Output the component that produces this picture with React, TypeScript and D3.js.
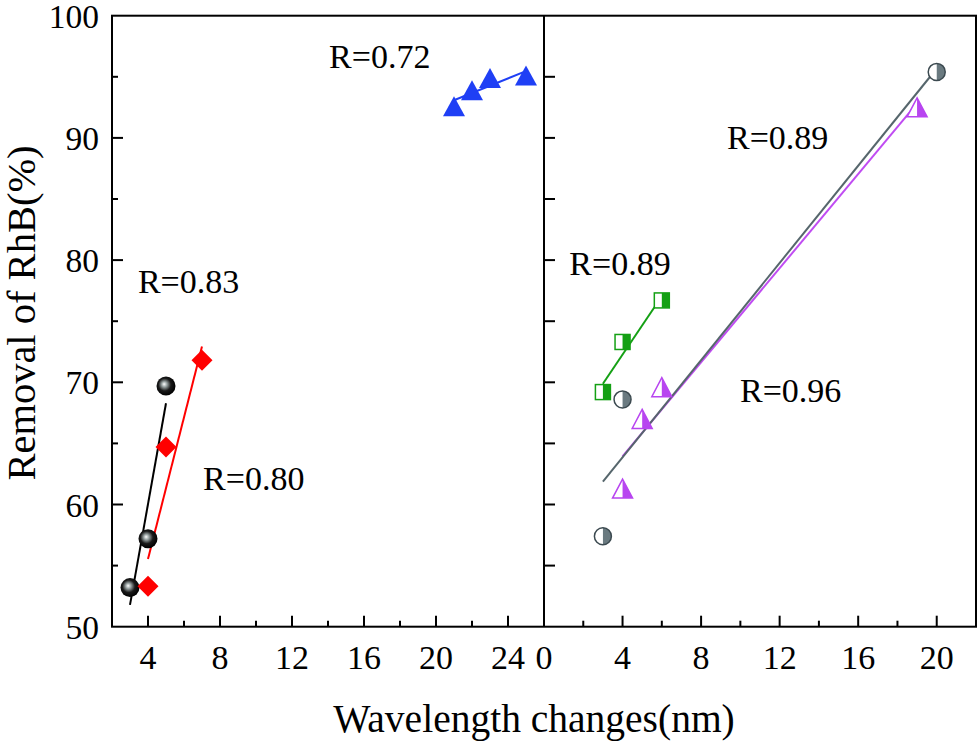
import { useEffect, useRef } from 'react';
import * as d3 from 'd3';

// left panel series
const blackX = [3, 4, 5];
const blackY = [53.2, 57.2, 69.7];
const redX = [4, 5, 7];
const redY = [53.3, 64.7, 71.8];
const blueX = [21, 22, 23, 25];
const blueY = [92.6, 93.9, 94.9, 95.1];

// right panel series
const greenX = [3, 4, 6];
const greenY = [69.2, 73.3, 76.7];
const grayX = [3, 4, 20];
const grayY = [57.4, 68.6, 95.4];
const purpleX = [4, 5, 6, 19];
const purpleY = [61.3, 67.0, 69.6, 92.5];

const leftTicks = [4, 8, 12, 16, 20, 24];
const rightTicks = [0, 4, 8, 12, 16, 20];
const yTicks = [50, 60, 70, 80, 90, 100];

// R labels, data coords of the text start / baseline
const leftNotes = [
    { text: 'R=0.72', x: 14.06, y: 95.72 },
    { text: 'R=0.83', x: 3.44, y: 77.31 },
    { text: 'R=0.80', x: 7.06, y: 61.2 },
];
const rightNotes = [
    { text: 'R=0.89', x: 9.32, y: 89.1 },
    { text: 'R=0.89', x: 1.29, y: 78.78 },
    { text: 'R=0.96', x: 9.98, y: 68.4 },
];

const FONT = '"Liberation Serif", "Times New Roman", serif';

// least squares line over the x range of the points
function fit(xs: number[], ys: number[]) {
    const mx = d3.mean(xs)!;
    const my = d3.mean(ys)!;
    let sxy = 0, sxx = 0;
    xs.forEach((x, i) => { sxy += (x - mx) * (ys[i] - my); sxx += (x - mx) * (x - mx); });
    const b = sxy / sxx;
    const [x0, x1] = d3.extent(xs) as [number, number];
    return [[x0, my + b * (x0 - mx)], [x1, my + b * (x1 - mx)]] as [number, number][];
}

const App = () => {
    const ref = useRef<SVGSVGElement>(null);

    useEffect(() => {
        if (!ref.current) return;
        const svg = d3.select(ref.current);
        svg.selectAll('*').remove();

        const top = 15.7, bottom = 626.7;
        const x0 = 112, xMid = 544, x1 = 976;

        const y = d3.scaleLinear().domain([50, 100]).range([bottom, top]);
        const xL = d3.scaleLinear().domain([2, 26]).range([x0, xMid]);
        const xR = d3.scaleLinear().domain([0, 22]).range([xMid, x1]);

        const defs = svg.append('defs');
        const grad = defs.append('radialGradient')
            .attr('id', 'ball')
            .attr('cx', '45%').attr('cy', '45%').attr('r', '55%')
            .attr('fx', '40%').attr('fy', '40%');
        grad.append('stop').attr('offset', '0%').attr('stop-color', '#ffffff');
        grad.append('stop').attr('offset', '25%').attr('stop-color', '#9aa4a4');
        grad.append('stop').attr('offset', '60%').attr('stop-color', '#1a1a1a');
        grad.append('stop').attr('offset', '100%').attr('stop-color', '#000');

        const g = svg.append('g');

        // frame
        g.append('rect')
            .attr('x', x0).attr('y', top)
            .attr('width', x1 - x0).attr('height', bottom - top)
            .attr('fill', 'none').attr('stroke', '#000').attr('stroke-width', 2);
        g.append('line')
            .attr('x1', xMid).attr('x2', xMid).attr('y1', top).attr('y2', bottom)
            .attr('stroke', '#000').attr('stroke-width', 2);

        // y ticks, left axis and divider
        d3.range(55, 100, 5).forEach(v => {
            const len = v % 10 === 0 ? 11 : 6;
            g.append('line')
                .attr('x1', x0).attr('x2', x0 + len)
                .attr('y1', y(v)).attr('y2', y(v))
                .attr('stroke', '#000').attr('stroke-width', 2);
            g.append('line')
                .attr('x1', xMid).attr('x2', xMid + 11)
                .attr('y1', y(v)).attr('y2', y(v))
                .attr('stroke', '#000').attr('stroke-width', 2);
        });
        yTicks.forEach(v => {
            g.append('text')
                .attr('x', 99).attr('y', y(v) + 12)
                .attr('text-anchor', 'end')
                .style('font-family', FONT).style('font-size', '33.5px')
                .text(v);
        });

        // x ticks
        const xTicks = (sc: d3.ScaleLinear<number, number>, lo: number, hi: number, labels: number[]) => {
            d3.range(lo, hi + 0.01, 2).forEach(v => {
                const major = labels.includes(v);
                g.append('line')
                    .attr('x1', sc(v)).attr('x2', sc(v))
                    .attr('y1', bottom).attr('y2', bottom - (major ? 11 : 6))
                    .attr('stroke', '#000').attr('stroke-width', 2);
            });
            labels.forEach(v => {
                g.append('text')
                    .attr('x', sc(v)).attr('y', 669)
                    .attr('text-anchor', 'middle')
                    .style('font-family', FONT).style('font-size', '34px')
                    .text(v);
            });
        };
        xTicks(xL, 4, 24, leftTicks);
        xTicks(xR, 2, 20, rightTicks);

        // axis titles
        g.append('text')
            .attr('x', 534).attr('y', 732)
            .attr('text-anchor', 'middle')
            .style('font-family', FONT).style('font-size', '39.5px')
            .text('Wavelength changes(nm)');
        g.append('text')
            .attr('transform', 'translate(35,313) rotate(-90)')
            .attr('text-anchor', 'middle')
            .style('font-family', FONT).style('font-size', '40.5px')
            .text('Removal of RhB(%)');

        // fit lines
        const line = (sc: d3.ScaleLinear<number, number>) => d3.line<[number, number]>()
            .x(d => sc(d[0])).y(d => y(d[1]));
        const drawFit = (sc: d3.ScaleLinear<number, number>, xs: number[], ys: number[], color: string) => {
            g.append('path')
                .attr('d', line(sc)(fit(xs, ys)))
                .attr('fill', 'none').attr('stroke', color).attr('stroke-width', 2);
        };
        drawFit(xL, blackX, blackY, '#000');
        drawFit(xL, redX, redY, '#ff0000');
        drawFit(xL, blueX, blueY, '#1f3ff5');
        drawFit(xR, greenX, greenY, '#14a014');
        drawFit(xR, purpleX, purpleY, '#c04cf2');
        drawFit(xR, grayX, grayY, '#56666c');

        // markers, left panel
        blackX.forEach((v, i) => {
            g.append('circle')
                .attr('cx', xL(v)).attr('cy', y(blackY[i])).attr('r', 9.5)
                .attr('fill', 'url(#ball)');
        });
        redX.forEach((v, i) => {
            const cx = xL(v), cy = y(redY[i]), s = 10.5;
            g.append('path')
                .attr('d', `M${cx},${cy - s}L${cx + s},${cy}L${cx},${cy + s}L${cx - s},${cy}Z`)
                .attr('fill', '#ff0000');
        });
        blueX.forEach((v, i) => {
            const cx = xL(v), cy = y(blueY[i]), w = 11, h = 10;
            g.append('path')
                .attr('d', `M${cx},${cy - h}L${cx + w},${cy + h}L${cx - w},${cy + h}Z`)
                .attr('fill', '#1f3ff5');
        });

        // markers, right panel (left half white, right half coloured)
        greenX.forEach((v, i) => {
            const cx = xR(v), cy = y(greenY[i]), s = 7.5;
            g.append('rect').attr('x', cx - s).attr('y', cy - s).attr('width', 2 * s).attr('height', 2 * s)
                .attr('fill', '#fff');
            g.append('rect').attr('x', cx).attr('y', cy - s).attr('width', s).attr('height', 2 * s)
                .attr('fill', '#14a014');
            g.append('rect').attr('x', cx - s).attr('y', cy - s).attr('width', 2 * s).attr('height', 2 * s)
                .attr('fill', 'none').attr('stroke', '#14a014').attr('stroke-width', 1.5);
        });
        grayX.forEach((v, i) => {
            const cx = xR(v), cy = y(grayY[i]), r = 8.5;
            g.append('circle').attr('cx', cx).attr('cy', cy).attr('r', r).attr('fill', '#fff');
            g.append('path')
                .attr('d', `M${cx},${cy - r}A${r},${r} 0 0 1 ${cx},${cy + r}Z`)
                .attr('fill', '#6a7a80');
            g.append('circle').attr('cx', cx).attr('cy', cy).attr('r', r)
                .attr('fill', 'none').attr('stroke', '#3c4a50').attr('stroke-width', 1.5);
        });
        purpleX.forEach((v, i) => {
            const cx = xR(v), cy = y(purpleY[i]), w = 10, h = 9.5;
            g.append('path')
                .attr('d', `M${cx},${cy - h}L${cx + w},${cy + h}L${cx - w},${cy + h}Z`)
                .attr('fill', '#fff');
            g.append('path')
                .attr('d', `M${cx},${cy - h}L${cx + w},${cy + h}L${cx},${cy + h}Z`)
                .attr('fill', '#b845f0');
            g.append('path')
                .attr('d', `M${cx},${cy - h}L${cx + w},${cy + h}L${cx - w},${cy + h}Z`)
                .attr('fill', 'none').attr('stroke', '#b845f0').attr('stroke-width', 1.5);
        });

        // R annotations
        const notes = (sc: d3.ScaleLinear<number, number>, list: typeof leftNotes) => {
            list.forEach(n => {
                g.append('text')
                    .attr('x', sc(n.x)).attr('y', y(n.y))
                    .style('font-family', FONT).style('font-size', '34px')
                    .text(n.text);
            });
        };
        notes(xL, leftNotes);
        notes(xR, rightNotes);
    }, []);

    return (
        <svg
            ref={ref}
            width={980}
            height={743}
            style={{ position: 'absolute', left: 0, top: 0, background: '#fff' }}
        />
    );
};

export default App;
